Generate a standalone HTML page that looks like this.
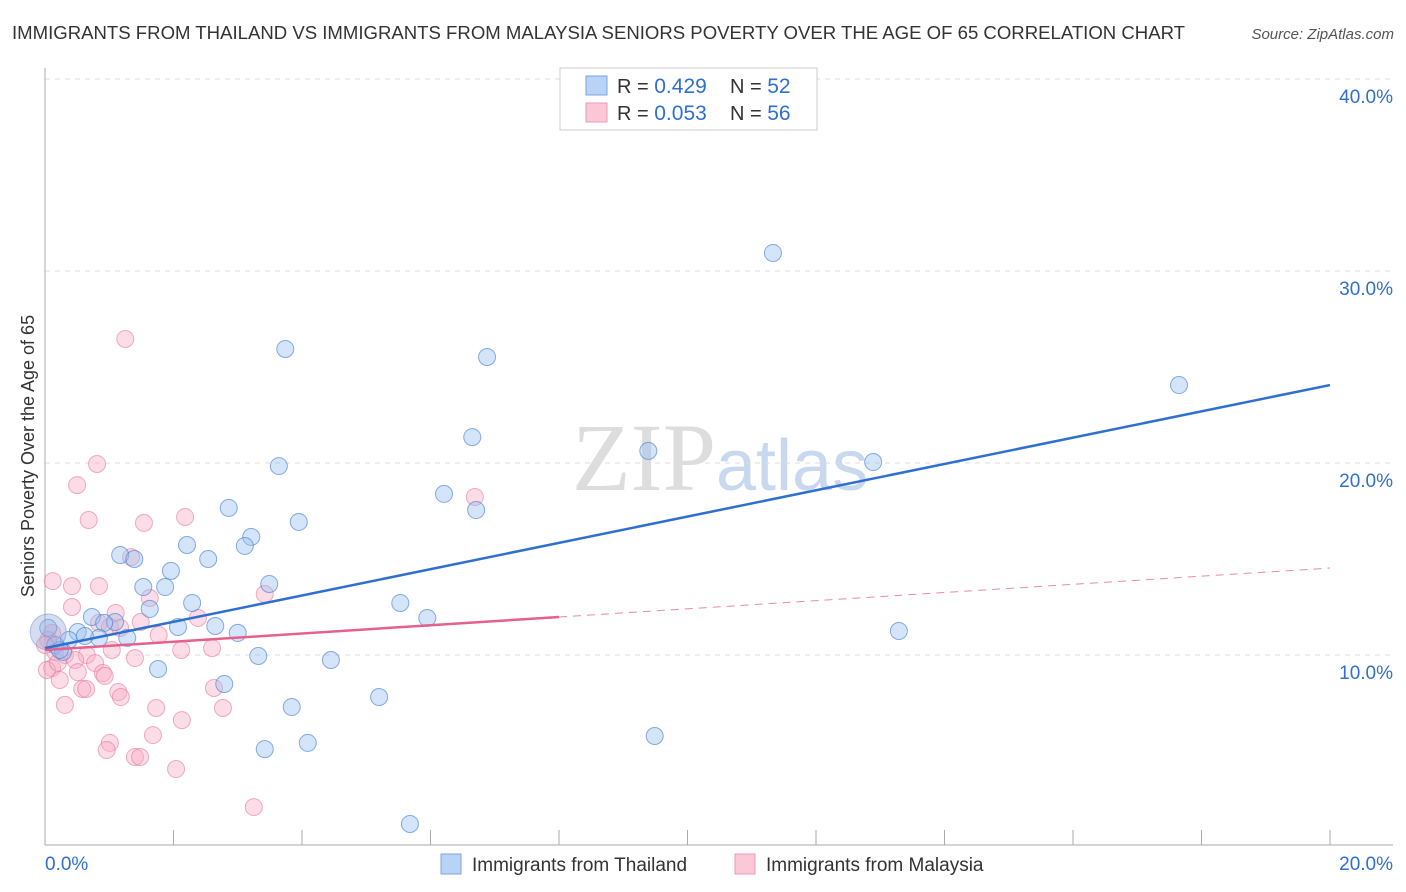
<!DOCTYPE html>
<html><head><meta charset="utf-8"><style>
body{margin:0;background:#fff;font-family:"Liberation Sans",sans-serif;}
svg{display:block}
</style></head><body>
<svg id="chart" width="1406" height="892">
<text x="12" y="39" font-size="18" fill="#333" textLength="1173" lengthAdjust="spacingAndGlyphs">IMMIGRANTS FROM THAILAND VS IMMIGRANTS FROM MALAYSIA SENIORS POVERTY OVER THE AGE OF 65 CORRELATION CHART</text>
<text x="1394" y="39" font-size="15" fill="#555" font-style="italic" text-anchor="end">Source: ZipAtlas.com</text>
<text x="716" y="490" font-size="96" fill="#ddd" font-family="Liberation Serif,serif" text-anchor="end">ZIP</text>
<text x="716" y="490" font-size="72" fill="#c8d8ee">atlas</text>
<g id="grid"></g>
<g id="pts"></g>
<g id="lines"></g>
<text transform="translate(34,456) rotate(-90)" font-size="18" fill="#333" text-anchor="middle">Seniors Poverty Over the Age of 65</text>
<g>
<rect x="560" y="68" width="257" height="62" fill="#fff" stroke="#ccc"/>
<rect x="586" y="76" width="21" height="19" fill="#b8d3f5" stroke="#7aa6e0"/>
<rect x="586" y="103" width="21" height="19" fill="#fbc8d8" stroke="#ec9ab4"/>
<text x="617" y="93" font-size="20" fill="#333">R = <tspan fill="#2f6fd0" font-size="21">0.429</tspan><tspan x="730">N = </tspan><tspan fill="#2f6fd0" font-size="21">52</tspan></text>
<text x="617" y="120" font-size="20" fill="#333">R = <tspan fill="#2f6fd0" font-size="21">0.053</tspan><tspan x="730">N = </tspan><tspan fill="#2f6fd0" font-size="21">56</tspan></text>
</g>
<g>
<rect x="441" y="854" width="20" height="20" fill="#b8d3f5" stroke="#7aa6e0"/>
<text x="472" y="871" font-size="19" fill="#333">Immigrants from Thailand</text>
<rect x="735" y="854" width="20" height="20" fill="#fbc8d8" stroke="#ec9ab4"/>
<text x="766" y="871" font-size="19" fill="#333">Immigrants from Malaysia</text>
</g>
</svg>
<script>
const yTicks=[10,20,30,40];
const yTickLabels=["10.0%","20.0%","30.0%","40.0%"];
const xTickLabels=["0.0%","20.0%"];
const blueX=[11.33,17.65,3.74,6.88,6.65,9.39,12.89,3.64,6.21,6.71,2.86,3.95,2.21,3.21,3.11,1.17,1.39,2.54,1.96,1.53,1.87,3.49,1.63,2.29,5.53,0.73,1.09,0.92,5.95,2.07,2.65,3.00,13.29,0.51,0.37,0.84,1.28,0.05,0.16,0.28,3.32,4.45,1.76,2.79,5.20,3.84,9.49,3.42,4.09,5.68,0.23,0.62];
const blueY=[30.94,24.06,25.94,25.52,21.35,20.63,20.05,19.84,18.39,17.55,17.66,16.93,15.73,16.15,15.68,15.21,15.0,15.0,14.38,13.54,13.54,13.70,12.40,12.71,12.71,11.98,11.72,11.67,11.93,11.46,11.51,11.15,11.25,11.20,10.78,10.89,10.89,11.41,10.52,10.16,9.95,9.74,9.27,8.49,7.81,7.29,5.78,5.10,5.42,1.20,10.26,10.99];
const pinkX=[1.25,0.81,0.50,6.69,0.68,1.54,2.18,0.12,0.42,0.84,1.34,0.42,1.63,3.42,1.10,0.84,1.49,1.77,2.38,1.01,0.11,0.65,0.16,0.31,0.47,1.17,2.12,2.60,1.40,0.78,1.04,0.11,0.23,0.51,0.90,0.93,0.58,0.64,1.14,1.18,2.63,2.77,1.73,2.13,1.68,1.01,0.96,1.40,1.48,2.04,3.25,0.31,0.03,0.05,0.0,0.2];
const pinkY=[26.46,19.95,18.85,18.23,17.03,16.88,17.19,13.85,13.59,13.59,15.10,12.50,12.97,13.18,12.19,11.67,11.72,11.04,11.93,11.46,11.15,10.0,10.16,10.0,9.74,11.41,10.26,10.36,9.84,9.58,10.26,9.32,8.70,9.11,9.06,8.91,8.23,8.23,8.07,7.81,8.28,7.24,7.24,6.61,5.83,5.42,5.05,4.69,4.69,4.06,2.08,7.40,9.22,10.78,10.52,9.6];
const blueTrend=[10.36,24.06];
const pinkTrend=[10.26,11.98,14.53];
const X0=45,X1=1330,Y0=847,PX=19.2;
const xs=v=>X0+(v/20)*(X1-X0);
const ys=v=>Y0-v*PX;
const NS="http://www.w3.org/2000/svg";
function mk(tag,attrs,parent){const e=document.createElementNS(NS,tag);for(const k in attrs)e.setAttribute(k,attrs[k]);parent.appendChild(e);return e;}
const grid=document.getElementById('grid');
yTicks.forEach((t,i)=>{
 const l=mk('line',{x1:45,x2:1393,y1:ys(t),y2:ys(t),stroke:'#ddd','stroke-dasharray':'5,5'},grid);
 
 
 const tx=mk('text',{x:1393,y:ys(t)+24,'font-size':19,fill:'#2f6fd0','text-anchor':'end'},grid);
 tx.textContent=yTickLabels[i];
 
 
});
const ax=mk('line',{x1:45,x2:45,y1:68,y2:845,stroke:'#aaa'},grid);


const bx=mk('line',{x1:45,x2:1393,y1:845,y2:845,stroke:'#aaa'},grid);


for(let i=0;i<=10;i++){
 const t=mk('line',{x1:xs(i*2),x2:xs(i*2),y1:830,y2:845,stroke:'#aaa'},grid);
 
 
}
[[0,45,'start'],[20,1393,'end']].forEach((d,i)=>{
 const t=mk('text',{x:d[1],y:870,'font-size':19,fill:'#2f6fd0','text-anchor':d[2]},grid);
 t.textContent=xTickLabels[i];
 
 
});
const pts=document.getElementById('pts');
pinkX.forEach((x,i)=>{
 const c=mk('circle',{cx:xs(x),cy:ys(pinkY[i]),r:8.5,fill:'rgba(248,170,195,0.4)',stroke:'rgba(232,120,155,0.6)','stroke-width':1},pts);
 
 
});
blueX.forEach((x,i)=>{
 const c=mk('circle',{cx:xs(x),cy:ys(blueY[i]),r:8.5,fill:'rgba(150,190,240,0.4)',stroke:'rgba(70,130,210,0.65)','stroke-width':1},pts);
 
 
});
const big=mk('circle',{cx:xs(0.05),cy:ys(11.2),r:18,fill:'rgba(150,170,220,0.4)',stroke:'rgba(120,140,200,0.5)'},pts);


const lines=document.getElementById('lines');
const bl=mk('line',{x1:xs(0),y1:ys(blueTrend[0]),x2:xs(20),y2:ys(blueTrend[1]),stroke:'#2f6fd0','stroke-width':2.5},lines);


const pl=mk('line',{x1:xs(0),y1:ys(pinkTrend[0]),x2:xs(8),y2:ys(pinkTrend[1]),stroke:'#e5608c','stroke-width':2.5},lines);


const pd=mk('line',{x1:xs(8),y1:ys(pinkTrend[1]),x2:xs(20),y2:ys(pinkTrend[2]),stroke:'#e98aa8','stroke-width':1,'stroke-dasharray':'8,6'},lines);


</script>
</body></html>
